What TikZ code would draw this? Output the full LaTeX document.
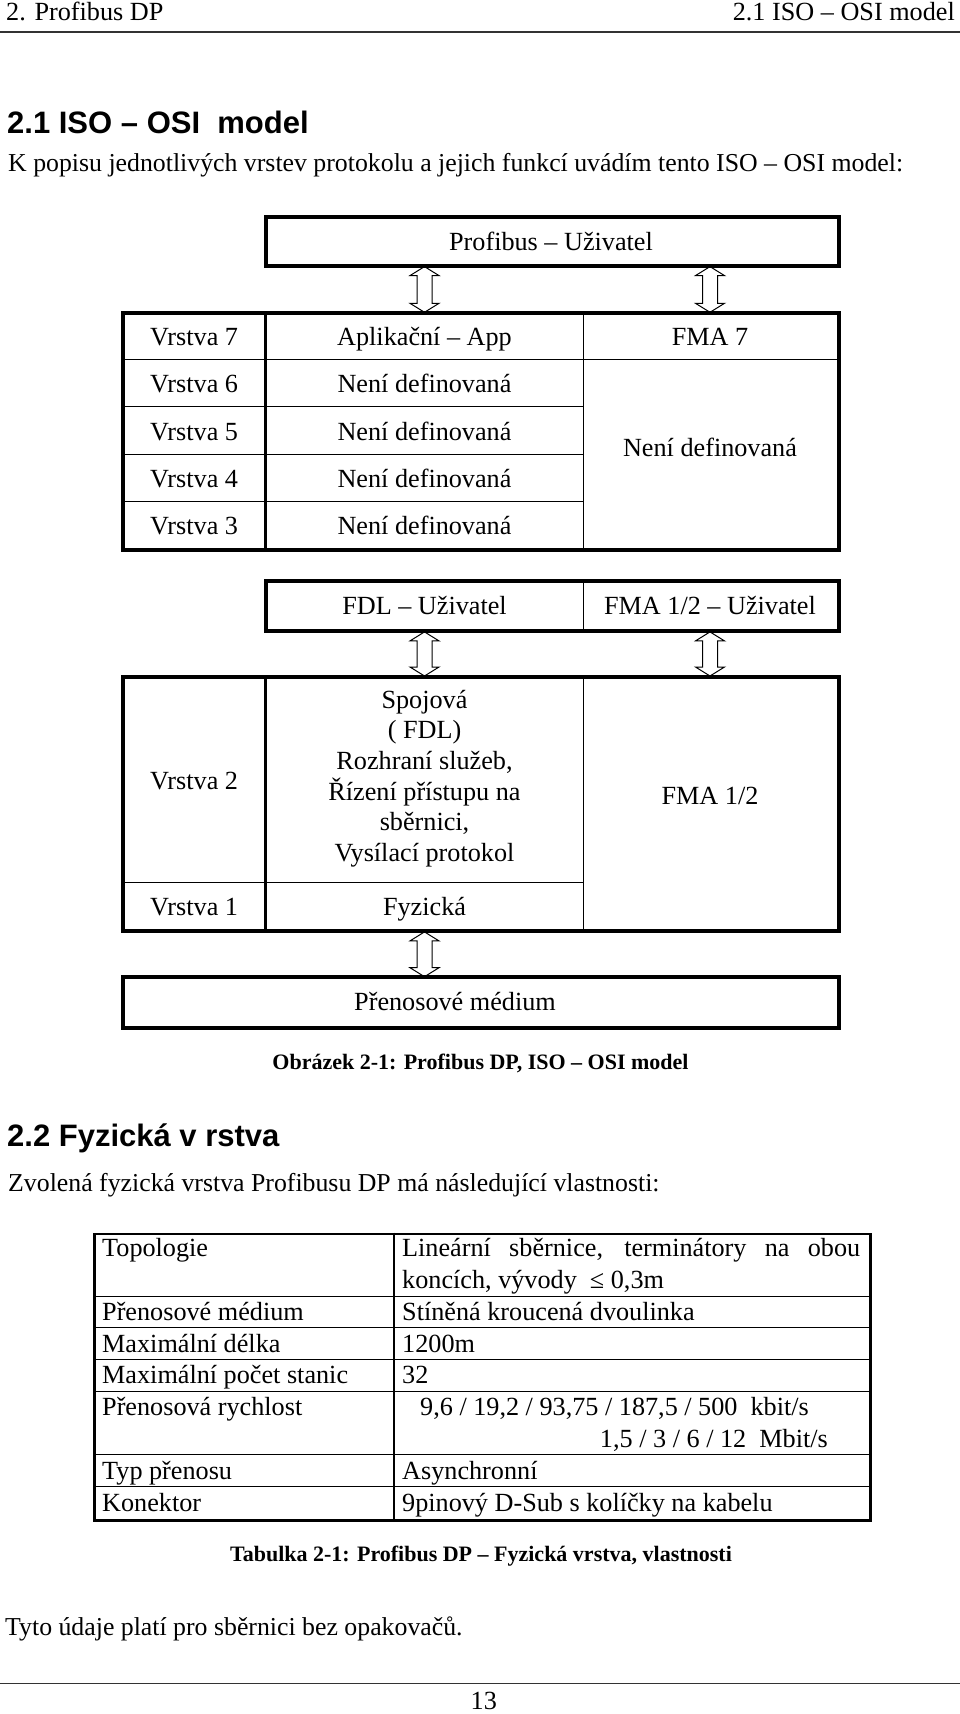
\documentclass[tikz,border=0pt]{standalone}
\usepackage{fontspec}
\setmainfont{Liberation Serif}
\setsansfont{Liberation Sans}
\usetikzlibrary{calc}
\tikzset{
  txt/.style={inner sep=0pt, anchor=base, font=\fontsize{26.2}{31}\selectfont},
  txtl/.style={txt, anchor=base west},
  txtr/.style={txt, anchor=base east},
  para/.style={inner sep=0pt, anchor=base west, font=\fontsize{25.8}{31}\selectfont},
  headtxt/.style={inner sep=0pt, anchor=base west, font=\sffamily\bfseries\fontsize{31}{36}\selectfont},
  capt/.style={inner sep=0pt, anchor=base, font=\bfseries\fontsize{22}{26}\selectfont},
  thickln/.style={line width=2.6pt},
  thinln/.style={line width=1pt},
  midln/.style={line width=2pt},
  boxnode/.style={draw, thickln, inner sep=0pt, anchor=north west},
  harrow/.style={line width=1pt, fill=white, line join=miter},
  rule/.style={line width=1.6pt, draw=black!80},
}
\newcommand\hollowarrow[2]{%
  \draw[harrow] let \p1=(#1), \p2=(#2) in
   (\x1,\y1) -- (\x1+14.5pt,\y1-9pt) -- (\x1+7.5pt,\y1-9pt) -- (\x1+7.5pt,\y2+9pt)
   -- (\x1+14.5pt,\y2+9pt) -- (\x1,\y2) -- (\x1-14.5pt,\y2+9pt) -- (\x1-7.5pt,\y2+9pt)
   -- (\x1-7.5pt,\y1-9pt) -- (\x1-14.5pt,\y1-9pt) -- cycle;}
\begin{document}
\begin{tikzpicture}[x=1pt,y=-1pt]
\useasboundingbox (0,0) rectangle (960,1714);
\fill[white] (0,0) rectangle (960,1714);

% page header
\node[txtl] (hl) at (6,20) {2. Profibus DP};
\node[txtr] (hr) at (955,20) {2.1 ISO – OSI model};
\coordinate (hruleL) at (0,31.7);
\coordinate (hruleR) at (960,31.7);
\draw[rule] (hruleL) -- (hruleR);

\node[headtxt] (h1) at (7,133) {2.1 ISO – OSI~~model};
\node[para] (p1) at (8,171.7) {K popisu jednotlivých vrstev protokolu a jejich funkcí uvádím tento ISO – OSI model:};

% ---------- figure ----------
\node[boxnode, minimum width=571.5pt, minimum height=47.3pt] (pub) at (265.5,216.7) {};
\node[txt] (pubt) at (551,250) {Profibus – Uživatel};

% main table cells
\node[txt] (v7) at (194.1,345) {Vrstva 7};
\node[txt] (app) at (424.5,345) {Aplikační – App};
\node[txt] (fma7) at (710,345) {FMA 7};
\node[txt] (v6) at (194.1,392.5) {Vrstva 6};
\node[txt] (n6) at (424.5,392.5) {Není definovaná};
\node[txt] (v5) at (194.1,440) {Vrstva 5};
\node[txt] (n5) at (424.5,440) {Není definovaná};
\node[txt] (v4) at (194.1,487.5) {Vrstva 4};
\node[txt] (n4) at (424.5,487.5) {Není definovaná};
\node[txt] (v3) at (194.1,534.5) {Vrstva 3};
\node[txt] (n3) at (424.5,534.5) {Není definovaná};
\node[txt] (nr) at (710,456) {Není definovaná};

\node[boxnode, minimum width=714.3pt, minimum height=236pt] (osi) at (122.7,312.3) {};
\hollowarrow{pub.south -| app}{osi.north -| app}
\hollowarrow{pub.south -| fma7}{osi.north -| fma7}
\draw[thickln] (osi.north west -| pub.west) -- (osi.south west -| pub.west);
\draw[thinln] (583.3,312.3) -- (583.3,548.3);
\draw[thinln] (122.7,359) -- (837,359);
\draw[thinln] (122.7,406.7) -- (583.3,406.7);
\draw[thinln] (122.7,454.3) -- (583.3,454.3);
\draw[thinln] (122.7,501.7) -- (583.3,501.7);
\draw[thickln] (osi.north west) rectangle (osi.south east);
\draw[thickln] (pub.north west) rectangle (pub.south east);

% FDL user row
\node[boxnode, minimum width=571.5pt, minimum height=48.6pt] (fdl) at (265.5,580.7) {};
\draw[thinln] (583.3,580.7) -- (583.3,629.3);
\node[txt] (fdlt) at (424.5,614.5) {FDL – Uživatel};
\node[txt] (fmau) at (710,614.5) {FMA 1/2 – Uživatel};

% lower table
\node[txt] (v2) at (194.1,789) {Vrstva 2};
\node[txt] (sp1) at (424.5,708.3) {Spojová};
\node[txt] (sp2) at (424.5,738.9) {( FDL)};
\node[txt] (sp3) at (424.5,769.5) {Rozhraní služeb,};
\node[txt] (sp4) at (424.5,800.1) {Řízení přístupu na};
\node[txt] (sp5) at (424.5,830.7) {sběrnici,};
\node[txt] (sp6) at (424.5,861.3) {Vysílací protokol};
\node[txt] (fma12) at (710,804.5) {FMA 1/2};
\node[txt] (v1) at (194.1,915) {Vrstva 1};
\node[txt] (fyz) at (424.5,915) {Fyzická};

\node[boxnode, minimum width=714.3pt, minimum height=253.3pt] (low) at (122.7,676) {};
\hollowarrow{fdl.south -| fdlt}{low.north -| fdlt}
\hollowarrow{fdl.south -| fmau}{low.north -| fmau}
\draw[thickln] (low.north west -| fdl.west) -- (low.south west -| fdl.west);
\draw[thinln] (583.3,676) -- (583.3,929.3);
\draw[thinln] (122.7,882.3) -- (583.3,882.3);
\draw[thickln] (low.north west) rectangle (low.south east);
\draw[thickln] (fdl.north west) rectangle (fdl.south east);

% medium
\node[boxnode, minimum width=714.3pt, minimum height=49.3pt] (med) at (122.7,976.7) {};
\node[txt] (medt) at (455,1010) {Přenosové médium};
\hollowarrow{low.south -| fyz}{med.north -| fyz}
\draw[thickln] (low.north west) rectangle (low.south east);
\draw[thickln] (med.north west) rectangle (med.south east);

\node[capt] (cap1) at (480.5,1069) {Obrázek 2-1: Profibus DP, ISO – OSI model};

% ---------- section 2.2 ----------
\node[headtxt] (h2) at (7,1146) {2.2 Fyzická v rstva};
\node[para] (p2) at (8,1191.7) {Zvolená fyzická vrstva Profibusu DP má následující vlastnosti:};

\node[boxnode, minimum width=776pt, minimum height=286.8pt] (prop) at (93,1232.5) {};
\draw[midln] (394,1232.5) -- (394,1519.3);
\foreach \yy in {1296,1327.3,1359.3,1391,1454,1486}
  \draw[thinln] (93,\yy) -- (869,\yy);

\node[txtl] (k1) at (102,1256.5) {Topologie};
\node[txtl] (v1a) at (402,1256.5) {\makebox[458pt][s]{Lineární sběrnice, terminátory na obou}};
\node[txtl] (v1b) at (402,1288) {koncích, vývody ~≤ 0,3m};
\node[txtl] (k2) at (102,1320.5) {Přenosové médium};
\node[txtl] (vv2) at (402,1320.5) {Stíněná kroucená dvoulinka};
\node[txtl] (k3) at (102,1352) {Maximální délka};
\node[txtl] (vv3) at (402,1352) {1200m};
\node[txtl] (k4) at (102,1383.7) {Maximální počet stanic};
\node[txtl] (vv4) at (402,1383.7) {32};
\node[txtl] (k5) at (102,1415.5) {Přenosová rychlost};
\node[txtl] (vv5a) at (420,1415.5) {9,6 / 19,2 / 93,75 / 187,5 / 500~~kbit/s};
\node[txtr] (vv5b) at (828,1447) {1,5 / 3 / 6 / 12~~Mbit/s};
\node[txtl] (k6) at (102,1479) {Typ přenosu};
\node[txtl] (vv6) at (402,1479) {Asynchronní};
\node[txtl] (k7) at (102,1511) {Konektor};
\node[txtl] (vv7) at (402,1511) {9pinový D-Sub s kolíčky na kabelu};

\node[capt] (cap2) at (481,1561) {Tabulka 2-1: Profibus DP – Fyzická vrstva, vlastnosti};

\node[para] (p3) at (5,1635) {Tyto údaje platí pro sběrnici bez opakovačů.};

\coordinate (fruleL) at (0,1683.3);
\coordinate (fruleR) at (960,1683.3);
\draw[rule] (fruleL) -- (fruleR);
\node[txt] (pg) at (483.8,1709) {13};
\end{tikzpicture}
\end{document}
